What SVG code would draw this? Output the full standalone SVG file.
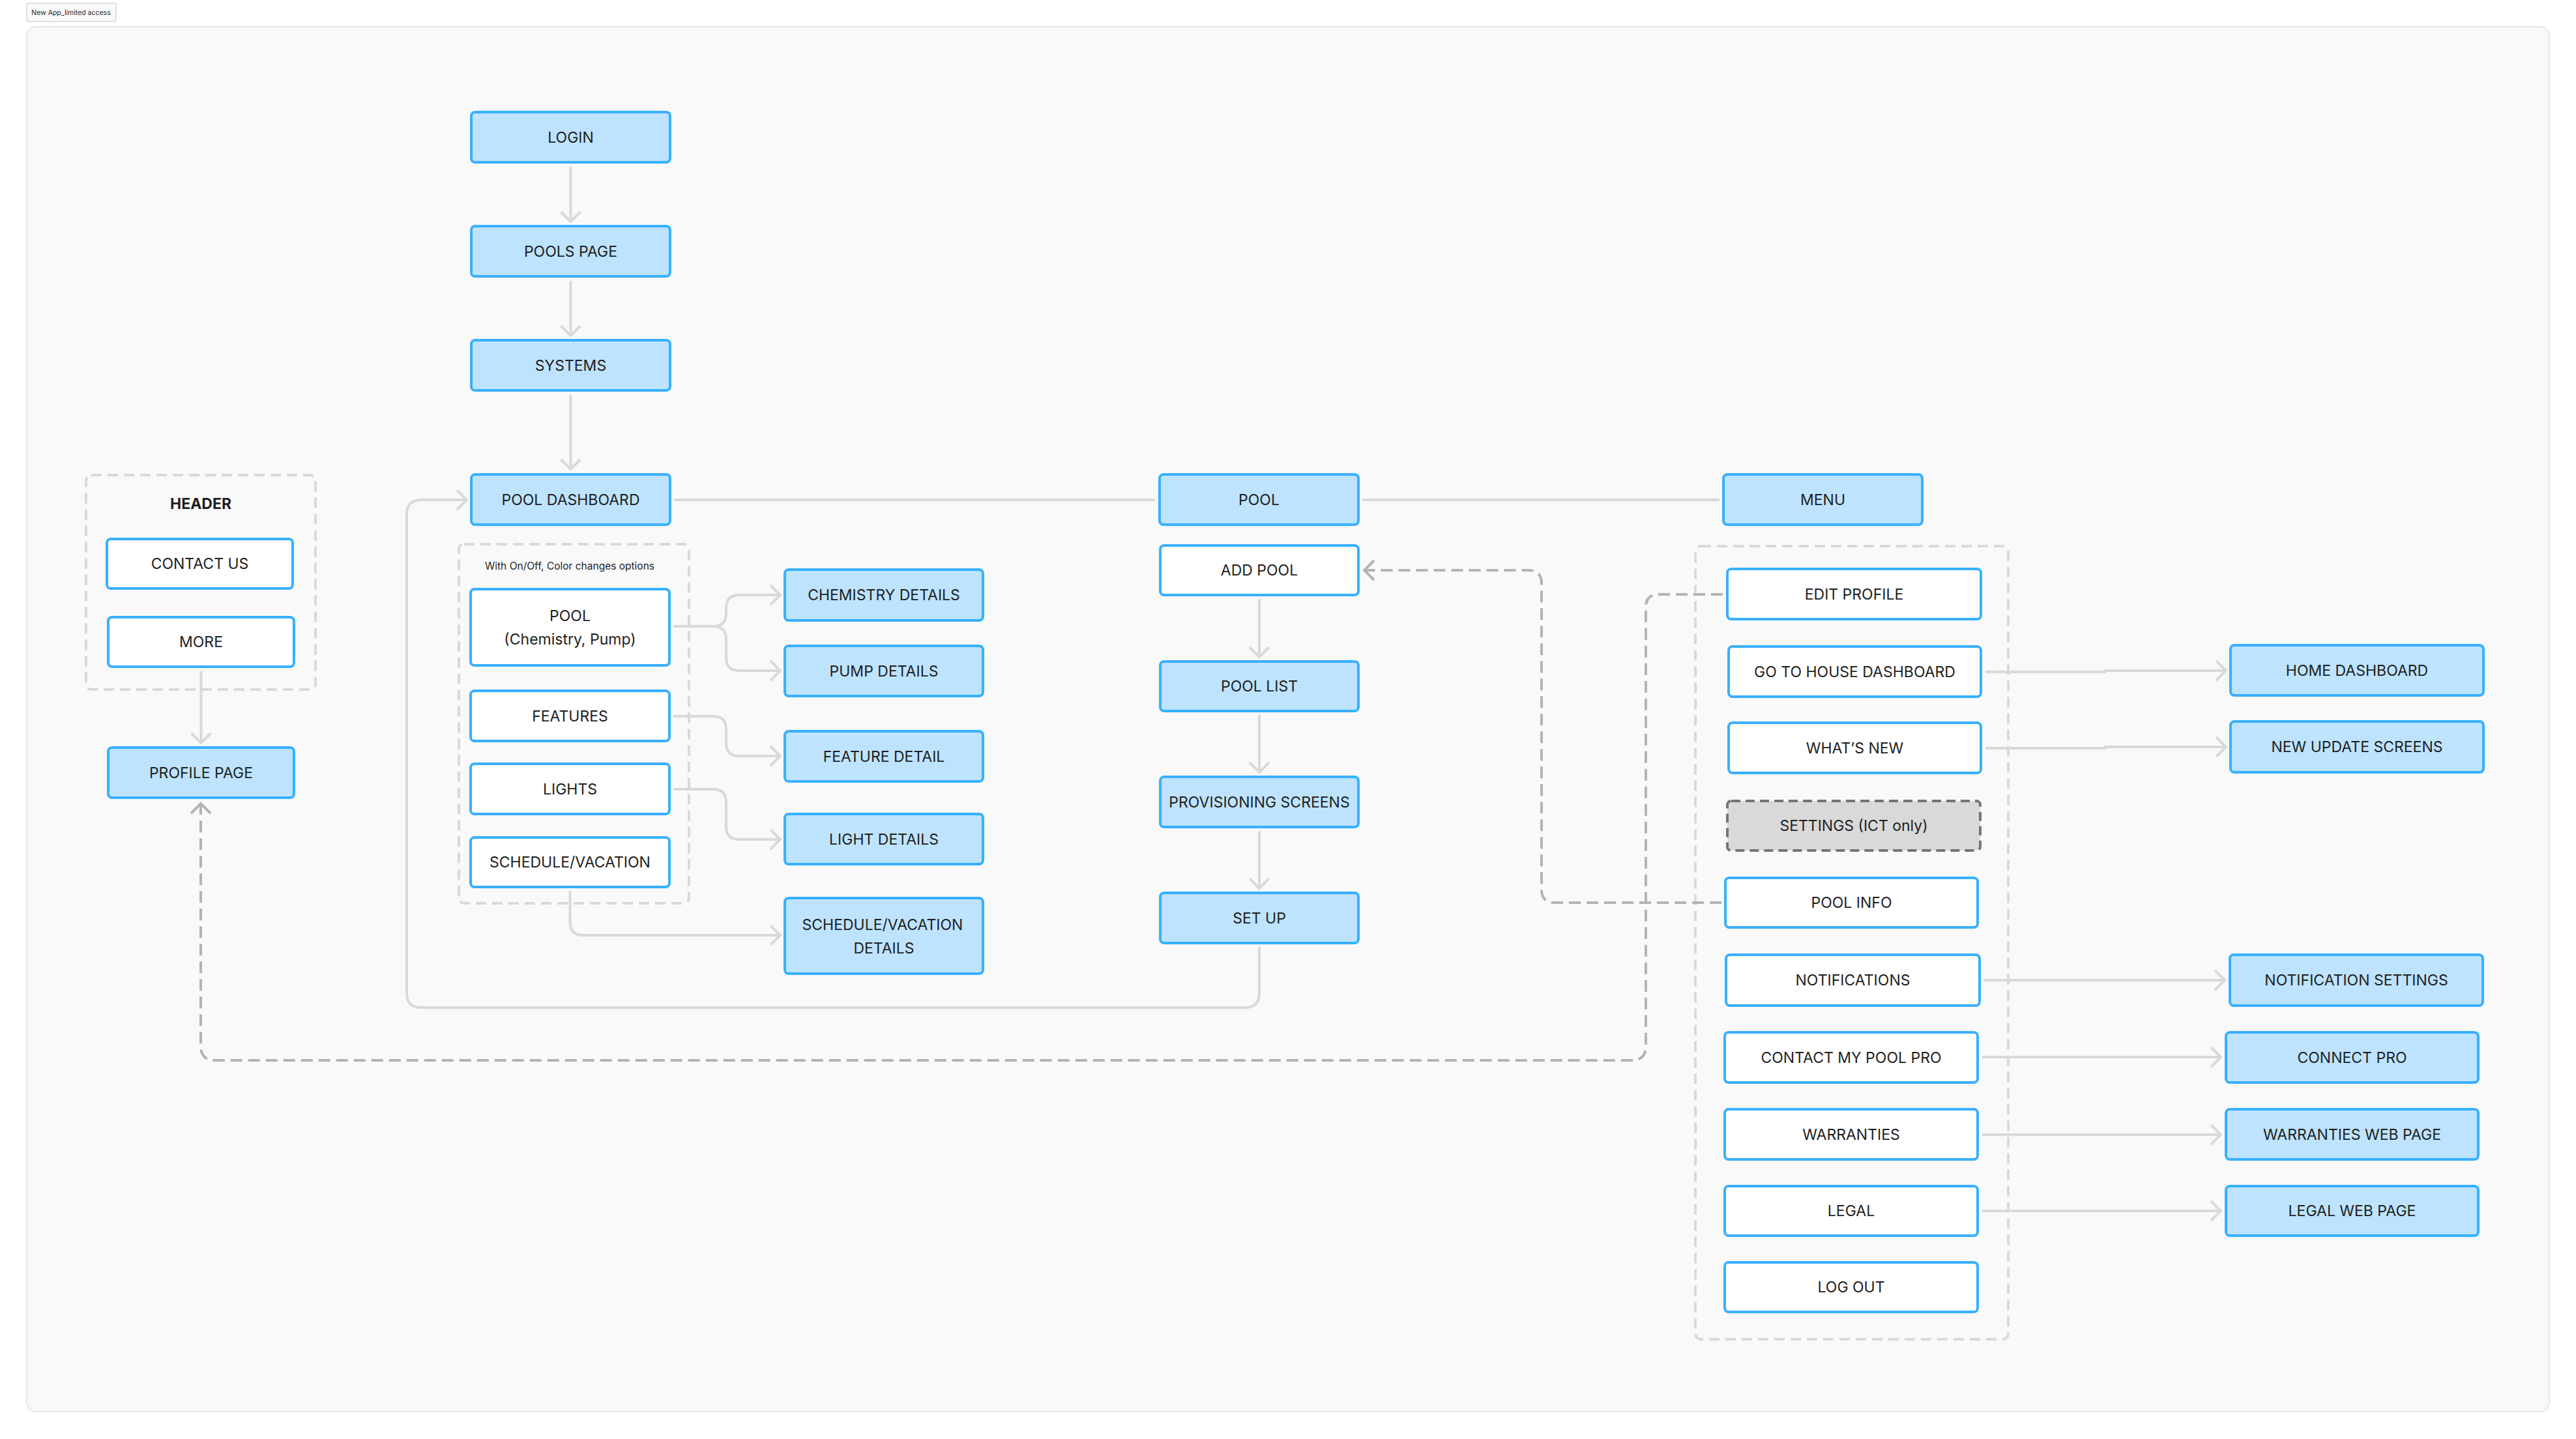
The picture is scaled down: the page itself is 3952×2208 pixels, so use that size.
<svg xmlns="http://www.w3.org/2000/svg" width="3952" height="2208" viewBox="0 0 3952 2208">
<style>
.n rect{stroke:#38B0FF;stroke-width:4}
.b rect{fill:#BDE3FF}
.w rect{fill:#FFFFFF}
.g rect{fill:#D9D9D9;stroke:#757575;stroke-dasharray:14 8}
text{font-family:Inter,"Liberation Sans",sans-serif;font-size:23px;fill:#1E1E1E;text-anchor:middle;dominant-baseline:central}
.grp{fill:none;stroke:#D9D9D9;stroke-width:4;stroke-dasharray:16 9}
.c{fill:none;stroke:#D9D9D9;stroke-width:4}
.d{fill:none;stroke:#B3B3B3;stroke-width:4;stroke-dasharray:18 9}
</style>
<defs>
<marker id="a" markerUnits="userSpaceOnUse" markerWidth="40" markerHeight="40" viewBox="-20 -20 40 40" refX="0" refY="0" orient="auto">
<path d="M-15,-15 L0,0 L-15,15" fill="none" stroke="#D9D9D9" stroke-width="4"/>
</marker>
<marker id="ad" markerUnits="userSpaceOnUse" markerWidth="40" markerHeight="40" viewBox="-20 -20 40 40" refX="0" refY="0" orient="auto">
<path d="M-15,-15 L0,0 L-15,15" fill="none" stroke="#B3B3B3" stroke-width="4"/>
</marker>
</defs>
<rect width="3952" height="2208" fill="#FFFFFF"/>
<g id="frame">
<rect x="41" y="41" width="3870" height="2125" rx="14" fill="#F9F9F9" stroke="#E6E6E6" stroke-width="2"/>
<rect x="41" y="5" width="137" height="28" rx="3" fill="#F9F9F9" stroke="#D6D6D6" stroke-width="1.5"/>
<text x="109" y="19" style="font-size:10.5px">New App_limited access</text>
</g>
<g id="groups">
<rect class="grp" x="132" y="729" width="352" height="329" rx="8"/>
<text x="308" y="773" style="font-weight:700">HEADER</text>
<rect class="grp" x="704" y="835" width="353" height="551" rx="8"/>
<text x="874" y="868" style="font-size:15.5px">With On/Off, Color changes options</text>
<rect class="grp" x="2601" y="838" width="480" height="1217" rx="8"/>
</g>
<g id="connectors">
<path class="c" d="M875.5,256 V340" marker-end="url(#a)"/>
<path class="c" d="M875.5,431 V515" marker-end="url(#a)"/>
<path class="c" d="M875.5,606 V720" marker-end="url(#a)"/>
<path class="c" d="M1034,767 H1772"/>
<path class="c" d="M2090,767 H2638"/>
<path class="c" d="M1932,919 V1008" marker-end="url(#a)"/>
<path class="c" d="M1932,1097 V1185" marker-end="url(#a)"/>
<path class="c" d="M1932,1275 V1363" marker-end="url(#a)"/>
<path class="c" d="M1932,1453 V1524 Q1932,1546 1910,1546 H646 Q624,1546 624,1524 V789 Q624,767 646,767 H716" marker-end="url(#a)"/>
<path class="c" d="M308.5,1030 V1140" marker-end="url(#a)"/>
<path class="c" d="M1033,961 H1094 Q1114,961 1114,941 V933 Q1114,913 1134,913 H1197" marker-end="url(#a)"/>
<path class="c" d="M1094,961 Q1114,961 1114,981 V1009 Q1114,1029 1134,1029 H1197" marker-end="url(#a)"/>
<path class="c" d="M1033,1099 H1094 Q1114,1099 1114,1119 V1140 Q1114,1160 1134,1160 H1197" marker-end="url(#a)"/>
<path class="c" d="M1033,1211 H1094 Q1114,1211 1114,1231 V1268 Q1114,1288 1134,1288 H1197" marker-end="url(#a)"/>
<path class="c" d="M874.5,1367 V1415 Q874.5,1435 894.5,1435 H1197" marker-end="url(#a)"/>
<path class="c" d="M3046,1031 H3230 V1029 H3415" marker-end="url(#a)"/>
<path class="c" d="M3046,1148 H3230 V1146 H3415" marker-end="url(#a)"/>
<path class="c" d="M3043,1504 H3413" marker-end="url(#a)"/>
<path class="c" d="M3041,1622 H3407" marker-end="url(#a)"/>
<path class="c" d="M3041,1741 H3407" marker-end="url(#a)"/>
<path class="c" d="M3041,1858 H3407" marker-end="url(#a)"/>
<path class="d" d="M2641,1385 H2385 Q2365,1385 2365,1365 V895 Q2365,875 2345,875 H2093" marker-end="url(#ad)"/>
<path class="d" d="M2643,912 H2545 Q2525,912 2525,932 V1605 Q2525,1627 2503,1627 H330 Q308,1627 308,1605 V1233" marker-end="url(#ad)"/>
</g>
<g id="n-login" class="n b"><rect x="723" y="172" width="305" height="77" rx="6"/><text x="875.5" y="210.5">LOGIN</text></g>
<g id="n-pools-page" class="n b"><rect x="723" y="347" width="305" height="77" rx="6"/><text x="875.5" y="385.5">POOLS PAGE</text></g>
<g id="n-systems" class="n b"><rect x="723" y="522" width="305" height="77" rx="6"/><text x="875.5" y="560.5">SYSTEMS</text></g>
<g id="n-pool-dashboard" class="n b"><rect x="723" y="728" width="305" height="77" rx="6"/><text x="875.5" y="766.5">POOL DASHBOARD</text></g>
<g id="n-pool-chem" class="n w"><rect x="722" y="904" width="305" height="117" rx="6"/><text x="874.5" y="945">POOL</text><text x="874.5" y="981">(Chemistry, Pump)</text></g>
<g id="n-features" class="n w"><rect x="722" y="1060" width="305" height="77" rx="6"/><text x="874.5" y="1098.5">FEATURES</text></g>
<g id="n-lights" class="n w"><rect x="722" y="1172" width="305" height="77" rx="6"/><text x="874.5" y="1210.5">LIGHTS</text></g>
<g id="n-schedule" class="n w"><rect x="722" y="1285" width="305" height="76" rx="6"/><text x="874.5" y="1323">SCHEDULE/VACATION</text></g>
<g id="n-chemistry" class="n b"><rect x="1204" y="874" width="304" height="78" rx="6"/><text x="1356" y="913">CHEMISTRY DETAILS</text></g>
<g id="n-pump" class="n b"><rect x="1204" y="991" width="304" height="77" rx="6"/><text x="1356" y="1029.5">PUMP DETAILS</text></g>
<g id="n-feature-detail" class="n b"><rect x="1204" y="1122" width="304" height="77" rx="6"/><text x="1356" y="1160.5">FEATURE DETAIL</text></g>
<g id="n-light-details" class="n b"><rect x="1204" y="1249" width="304" height="77" rx="6"/><text x="1356" y="1287.5">LIGHT DETAILS</text></g>
<g id="n-schedule-details" class="n b"><rect x="1204" y="1378" width="304" height="116" rx="6"/><text x="1354" y="1419">SCHEDULE/VACATION</text><text x="1356" y="1455">DETAILS</text></g>
<g id="n-contact-us" class="n w"><rect x="164" y="827" width="285" height="76" rx="6"/><text x="306.5" y="865">CONTACT US</text></g>
<g id="n-more" class="n w"><rect x="166" y="947" width="285" height="76" rx="6"/><text x="308.5" y="985">MORE</text></g>
<g id="n-profile-page" class="n b"><rect x="166" y="1147" width="285" height="77" rx="6"/><text x="308.5" y="1185.5">PROFILE PAGE</text></g>
<g id="n-pool" class="n b"><rect x="1779" y="728" width="305" height="77" rx="6"/><text x="1931.5" y="766.5">POOL</text></g>
<g id="n-add-pool" class="n w"><rect x="1780" y="837" width="304" height="76" rx="6"/><text x="1932" y="875">ADD POOL</text></g>
<g id="n-pool-list" class="n b"><rect x="1780" y="1015" width="304" height="76" rx="6"/><text x="1932" y="1053">POOL LIST</text></g>
<g id="n-provisioning" class="n b"><rect x="1780" y="1192" width="304" height="77" rx="6"/><text x="1932" y="1230.5">PROVISIONING SCREENS</text></g>
<g id="n-set-up" class="n b"><rect x="1780" y="1370" width="304" height="77" rx="6"/><text x="1932" y="1408.5">SET UP</text></g>
<g id="n-menu" class="n b"><rect x="2644" y="728" width="305" height="77" rx="6"/><text x="2796.5" y="766.5">MENU</text></g>
<g id="n-edit-profile" class="n w"><rect x="2650" y="873" width="389" height="77" rx="6"/><text x="2844.5" y="911.5">EDIT PROFILE</text></g>
<g id="n-go-house" class="n w"><rect x="2652" y="992" width="387" height="77" rx="6"/><text x="2845.5" y="1030.5">GO TO HOUSE DASHBOARD</text></g>
<g id="n-whats-new" class="n w"><rect x="2652" y="1109" width="387" height="77" rx="6"/><text x="2845.5" y="1147.5">WHAT’S NEW</text></g>
<g id="n-settings" class="n g"><rect x="2650" y="1229" width="388" height="76" rx="6"/><text x="2844" y="1267">SETTINGS (ICT only)</text></g>
<g id="n-pool-info" class="n w"><rect x="2647" y="1347" width="387" height="76" rx="6"/><text x="2840.5" y="1385">POOL INFO</text></g>
<g id="n-notifications" class="n w"><rect x="2648" y="1465" width="389" height="78" rx="6"/><text x="2842.5" y="1504">NOTIFICATIONS</text></g>
<g id="n-contact-pro" class="n w"><rect x="2646" y="1584" width="388" height="77" rx="6"/><text x="2840" y="1622.5">CONTACT MY POOL PRO</text></g>
<g id="n-warranties" class="n w"><rect x="2646" y="1702" width="388" height="77" rx="6"/><text x="2840" y="1740.5">WARRANTIES</text></g>
<g id="n-legal" class="n w"><rect x="2646" y="1820" width="388" height="76" rx="6"/><text x="2840" y="1858">LEGAL</text></g>
<g id="n-log-out" class="n w"><rect x="2646" y="1937" width="388" height="76" rx="6"/><text x="2840" y="1975">LOG OUT</text></g>
<g id="n-home-dashboard" class="n b"><rect x="3422" y="990" width="388" height="77" rx="6"/><text x="3616" y="1028.5">HOME DASHBOARD</text></g>
<g id="n-new-update" class="n b"><rect x="3422" y="1107" width="388" height="78" rx="6"/><text x="3616" y="1146">NEW UPDATE SCREENS</text></g>
<g id="n-notif-settings" class="n b"><rect x="3421" y="1465" width="388" height="78" rx="6"/><text x="3615" y="1504">NOTIFICATION SETTINGS</text></g>
<g id="n-connect-pro" class="n b"><rect x="3415" y="1584" width="387" height="77" rx="6"/><text x="3608.5" y="1622.5">CONNECT PRO</text></g>
<g id="n-warranties-web" class="n b"><rect x="3415" y="1702" width="387" height="77" rx="6"/><text x="3608.5" y="1740.5">WARRANTIES WEB PAGE</text></g>
<g id="n-legal-web" class="n b"><rect x="3415" y="1820" width="387" height="76" rx="6"/><text x="3608.5" y="1858">LEGAL WEB PAGE</text></g>
</svg>
